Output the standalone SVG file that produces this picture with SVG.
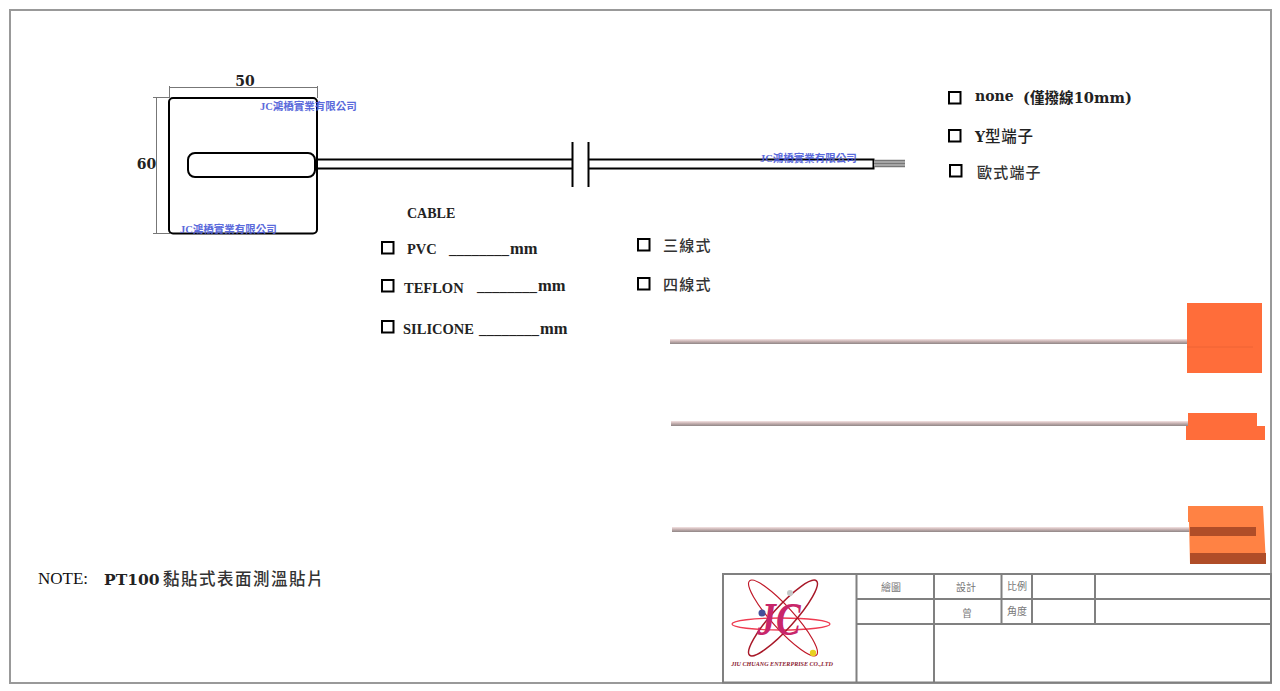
<svg xmlns="http://www.w3.org/2000/svg" width="1280" height="691" viewBox="0 0 1280 691">
<defs>
<linearGradient id="rod" x1="0" y1="0" x2="0" y2="1"><stop offset="0" stop-color="#f5e4e4"/><stop offset="0.45" stop-color="#c9b3b3"/><stop offset="1" stop-color="#8f8686"/></linearGradient>
</defs>
<style>
.ln{fill:none;stroke:#000;stroke-width:2}
.dim{fill:none;stroke:#777;stroke-width:1}
.cb{fill:#fff;stroke:#000;stroke-width:2}
.wm{font:bold 10.500px "Liberation Serif","Noto Sans CJK TC",sans-serif;fill:#4a5ad8;opacity:.9}
.dj{font:bold 14px "DejaVu Serif","Noto Sans CJK TC",serif;fill:#222}
.lb{font:bold 14.500px "Liberation Serif","Noto Sans CJK TC",serif;fill:#222}
.mm{font-size:16.500px}
.cj{font:500 15px "Noto Sans CJK TC",sans-serif;fill:#333;letter-spacing:1.200px}
.tb{fill:none;stroke:#808080;stroke-width:2}
.tt{font:10px "Noto Sans CJK TC",sans-serif;fill:#777;text-anchor:middle}
</style>
<rect width="1280" height="691" fill="#fff"/>
<rect x="10" y="10" width="1261" height="673" fill="none" stroke="#999" stroke-width="2"/>

<g id="connectors">
<path class="dim" d="M169.500 86V98M317.500 86V98M169.500 87.500H317.500M153 97.500H170M153 233.500H170M156.500 97.500V233.500"/>
<path class="ln" d="M316 159.500H572M316 168.500H572M588 159.500H873.500V168.500H588"/>
<path class="ln" d="M572.500 142V187M588.500 142V187"/>
<rect x="874" y="160" width="31" height="7" fill="#b5b5b5"/>
<path d="M874 160.500H905M874 163.500H905M874 166.500H905" fill="none" stroke="#777" stroke-width="1.400"/>
</g>

<g id="sensor-pad">
<rect class="ln" x="169" y="98" width="148" height="135.500" rx="4"/>
<rect class="ln" x="188" y="153" width="127" height="24" rx="7"/>
</g>
<g id="dims">
<text class="dj" x="245" y="86" text-anchor="middle">50</text>
<text class="dj" x="146.500" y="169" text-anchor="middle">60</text>
</g>
<g id="watermarks">
<text class="wm" x="260" y="110">JC鴻橋實業有限公司</text>
<text class="wm" x="180" y="233">JC鴻橋實業有限公司</text>
<text class="wm" x="760" y="162">JC鴻橋實業有限公司</text>
</g>

<g id="terminal-options">
<rect class="cb" x="949" y="92" width="11.500" height="11.500"/>
<text class="dj" x="975" y="101">none</text>
<text class="dj" x="1023" y="103" style="font-size:14.600px">(僅撥線10mm)</text>
<rect class="cb" x="949" y="130" width="11.500" height="11.500"/>
<text class="dj" x="975" y="142">Y<tspan style="font-weight:500;font-family:'Noto Sans CJK TC',sans-serif;font-size:15.500px;letter-spacing:.8px">型端子</tspan></text>
<rect class="cb" x="950" y="165" width="11.500" height="11.500"/>
<text class="cj" x="977" y="178">歐式端子</text>
</g>

<g id="cable-options">
<text class="lb" x="407" y="218" style="font-size:14px">CABLE</text>
<rect class="cb" x="382" y="242" width="11.500" height="11.500"/>
<text class="lb" x="407" y="254">PVC</text>
<text class="lb" x="449" y="254" textLength="60" lengthAdjust="spacingAndGlyphs">________</text>
<text class="lb mm" x="510" y="254">mm</text>
<rect class="cb" x="382" y="280" width="11.500" height="11.500"/>
<text class="lb" x="404" y="293">TEFLON</text>
<text class="lb" x="477" y="291" textLength="60" lengthAdjust="spacingAndGlyphs">________</text>
<text class="lb mm" x="538" y="291">mm</text>
<rect class="cb" x="382" y="321" width="11.500" height="11.500"/>
<text class="lb" x="403" y="334">SILICONE</text>
<text class="lb" x="479" y="334" textLength="60" lengthAdjust="spacingAndGlyphs">________</text>
<text class="lb mm" x="540" y="334">mm</text>
</g>
<g id="wire-options">
<rect class="cb" x="638" y="239" width="11.500" height="11.500"/>
<text class="cj" x="663" y="251">三線式</text>
<rect class="cb" x="638" y="278" width="11.500" height="11.500"/>
<text class="cj" x="663" y="290">四線式</text>
</g>

<g id="photo-1">
<rect x="670" y="339" width="518" height="5" fill="url(#rod)"/>
<rect x="1187" y="303" width="75" height="70" fill="#ff6d3a"/>
<path d="M1187 347H1253" stroke="#ee6535" stroke-width="1"/>
</g>
<g id="photo-2">
<rect x="671" y="421" width="517" height="5" fill="url(#rod)"/>
<path d="M1188 413H1257V426H1265V440H1186V426H1188Z" fill="#ff6d3a"/>
</g>
<g id="photo-3">
<rect x="672" y="527" width="518" height="5" fill="url(#rod)"/>
<path d="M1188 506H1263L1266 564H1190L1189 522H1188Z" fill="#ff8244"/>
<rect x="1190" y="527" width="66" height="9" fill="#b04d28"/>
<path d="M1190 553H1266V564H1190Z" fill="#b04d28"/>
</g>

<g id="note">
<text x="38" y="584" style="font:17px 'Liberation Serif',serif;fill:#111">NOTE:</text>
<text x="104" y="585" style="font:bold 15.500px 'DejaVu Serif','Noto Sans CJK TC',serif;fill:#222">PT100</text>
<text x="163" y="585" style="font:500 16.500px 'Noto Sans CJK TC',sans-serif;fill:#333;letter-spacing:1.500px">黏貼式表面測溫貼片</text>
</g>

<g id="title-block">
<path class="tb" d="M723 574H1271V682.500H723ZM856.500 574V682.500M934 574V682.500M1001.500 574V624M1032 574V624M1095 574V624M856.500 599H1271M856.500 624H1271"/>
<text class="tt" x="891" y="591">繪圖</text>
<text class="tt" x="966" y="591">設計</text>
<text class="tt" x="1017" y="590">比例</text>
<text class="tt" x="967" y="617">曾</text>
<text class="tt" x="1017" y="615">角度</text>
</g>

<g id="logo">
<g fill="none">
<ellipse cx="781" cy="624" rx="49" ry="6" stroke-width="1.300" stroke="#ee3a50"/>
<ellipse cx="783" cy="618" rx="50" ry="11" transform="rotate(48 783 618)" stroke-width="1.200" stroke="#c01828"/>
<ellipse cx="783" cy="618" rx="50" ry="11" transform="rotate(-48 783 618)" stroke-width="1.500" stroke="#a81828"/>
</g>
<text transform="translate(779 635) scale(1 1.250)" text-anchor="middle" style="font:italic bold 37px 'Liberation Serif',serif;fill:#c8266a">JC</text>
<circle cx="762" cy="613" r="3.500" fill="#45509a"/>
<circle cx="790" cy="593" r="3" fill="#c4c8c8"/>
<circle cx="813" cy="653" r="3.200" fill="#e8d020"/>
<text x="782" y="666" text-anchor="middle" style="font:italic bold 6.100px 'Liberation Serif',serif;fill:#8a1a30">JIU CHUANG ENTERPRISE CO.,LTD</text>
</g>
</svg>
